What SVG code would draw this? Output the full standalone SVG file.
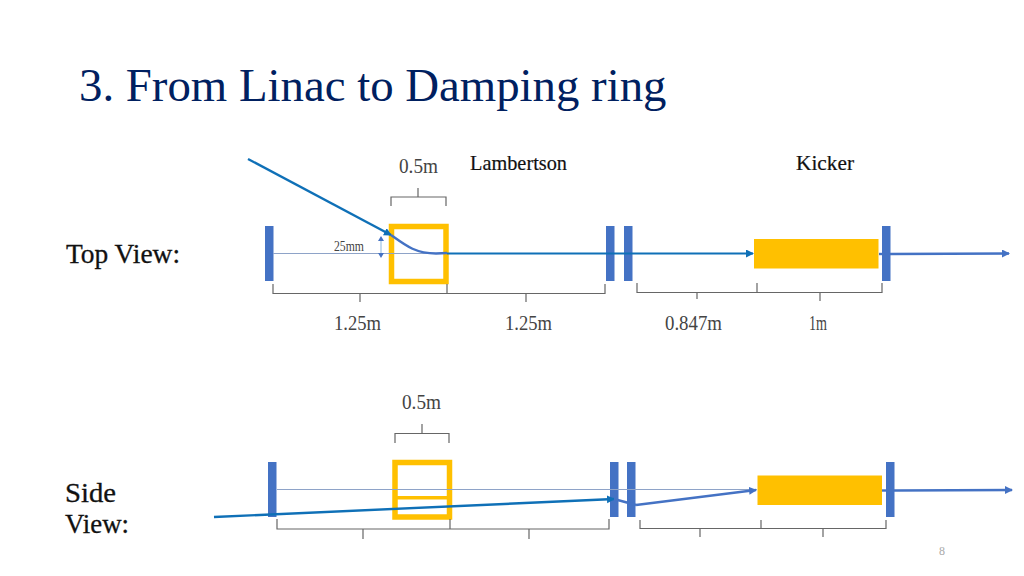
<svg xmlns="http://www.w3.org/2000/svg" width="1024" height="576" viewBox="0 0 1024 576">
<style>
.t{font-family:"Liberation Serif",serif}
.m{font-size:20px;fill:#444}
.h{font-size:27px;fill:#111;stroke:#111;stroke-width:.3}
.lab{font-size:22px;fill:#111;stroke:#111;stroke-width:.2}
.q{fill:#4472c4}
.y{fill:#ffc000}
.yo{fill:none;stroke:#ffc000;stroke-width:5.5}
.br{fill:none;stroke:#666;stroke-width:1.2}
.ax{fill:none;stroke:#8ea3c8;stroke-width:1.2}
.b1{fill:none;stroke:#0f70b7;stroke-width:2.4}
.b2{fill:none;stroke:#4472c4;stroke-width:2.4}
</style>
<defs>
<marker id="a1" markerUnits="userSpaceOnUse" markerWidth="9" markerHeight="9" refX="7" refY="4" orient="auto"><path d="M0 0L8 4L0 8Z" fill="#0f70b7"/></marker>
<marker id="a2" markerUnits="userSpaceOnUse" markerWidth="9" markerHeight="9" refX="7" refY="4" orient="auto"><path d="M0 0L8 4L0 8Z" fill="#4472c4"/></marker>
</defs>
<rect width="1024" height="576" fill="#fff"/>
<text x="79" y="101" style="font-family:'Liberation Serif',serif;font-size:46.800px;fill:#002060">3. From Linac to Damping ring</text>

<g id="top-view-quads">
<rect class="q" x="265" y="226" width="8.500" height="55"/>
<rect class="q" x="606" y="226" width="8.500" height="55"/>
<rect class="q" x="624" y="226" width="8.500" height="55"/>
<rect class="q" x="882" y="226" width="8.500" height="55"/>
</g>
<g id="lambertson-top"><rect class="yo" x="391.500" y="226.500" width="54.500" height="55"/></g>
<g id="kicker-top"><rect class="y" x="754" y="239" width="124.500" height="29.500"/></g>

<g id="side-view-quads">
<rect class="q" x="268" y="462" width="8.500" height="55"/>
<rect class="q" x="610" y="462" width="8.500" height="55"/>
<rect class="q" x="627" y="462" width="8.500" height="55"/>
<rect class="q" x="886" y="462" width="8.500" height="55"/>
</g>
<g id="lambertson-side"><rect class="yo" x="395" y="462.500" width="54.500" height="54.500"/><rect class="y" x="397" y="496" width="50" height="3.500"/></g>
<g id="kicker-side"><rect class="y" x="757.500" y="475.500" width="124.500" height="29.500"/></g>

<g id="connectors">
<path class="ax" d="M273 253.500H447"/>
<path class="b1" marker-end="url(#a1)" d="M248 159L391 235"/>
<path class="b2" d="M391 235C405 245 415 253.500 436 253.500L447 253"/>
<path d="M447 253.500H753" fill="none" stroke="#0f70b7" stroke-width="2.200" marker-end="url(#a1)"/>
<path class="b2" d="M879 254L882 254"/>
<path class="b2" marker-end="url(#a2)" d="M890 254L1009 253.500"/>
<path d="M381 238V256" fill="none" stroke="#9dc3e6" stroke-width="1.200"/>
<path d="M378 241L381 236L384 241ZM378 253L381 258L384 253Z" fill="#4472c4"/>
<path class="ax" d="M277 489.500H757"/>
<path class="b1" marker-end="url(#a1)" d="M214 517L614 499"/>
<path class="b2" d="M614 499L636 505"/>
<path class="b2" marker-end="url(#a2)" d="M636 505L756 490"/>
<path class="b2" d="M882 490.500L886 490.500"/>
<path class="b2" marker-end="url(#a2)" d="M894 490.500L1012 490"/>
<path class="br" d="M391 206V197H446V206M418 197V188"/>
<path class="br" d="M273 284V293.500H605V284M360 293.500V302M447 284V293.500M526 293.500V302"/>
<path class="br" d="M637 283V292.500H882V283M697 292.500V299M757 283V292.500M820 292.500V301"/>
<path class="br" d="M395 443V433.500H449V443M422 433.500V424"/>
<path class="br" d="M277 519V529H609V519M363 529V539M450 519V529M529 529V539"/>
<path class="br" d="M640 520V528.500H886V520M700 528.500V537M761 520V528.500M823 528.500V537"/>
</g>

<g id="labels">
<text class="t m" x="399" y="172.500" textLength="39" lengthAdjust="spacingAndGlyphs">0.5m</text>
<text class="t lab" x="470" y="170" textLength="97" lengthAdjust="spacingAndGlyphs">Lambertson</text>
<text class="t lab" x="796" y="170" textLength="58" lengthAdjust="spacingAndGlyphs">Kicker</text>
<text class="t h" x="66" y="263" textLength="114" lengthAdjust="spacingAndGlyphs">Top View:</text>
<text class="t" x="334" y="251" style="font-size:14px;fill:#444" textLength="30" lengthAdjust="spacingAndGlyphs">25mm</text>
<text class="t m" x="334" y="329.500" textLength="47" lengthAdjust="spacingAndGlyphs">1.25m</text>
<text class="t m" x="505" y="329.500" textLength="47" lengthAdjust="spacingAndGlyphs">1.25m</text>
<text class="t m" x="665" y="329.500" textLength="57" lengthAdjust="spacingAndGlyphs">0.847m</text>
<text class="t m" x="809" y="329.500" textLength="18" lengthAdjust="spacingAndGlyphs">1m</text>
<text class="t m" x="402" y="408.500" textLength="39" lengthAdjust="spacingAndGlyphs">0.5m</text>
<text class="t h" x="65" y="502" textLength="51" lengthAdjust="spacingAndGlyphs">Side</text>
<text class="t h" x="65" y="533" textLength="64" lengthAdjust="spacingAndGlyphs">View:</text>
<text x="942" y="555" text-anchor="middle" style="font-family:'Liberation Serif',serif;font-size:12px;fill:#aaa">8</text>
</g>
</svg>
